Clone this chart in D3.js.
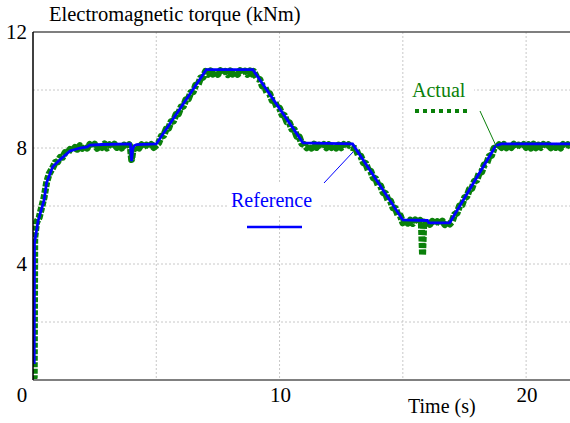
<!DOCTYPE html>
<html>
<head>
<meta charset="utf-8">
<script src="https://cdn.jsdelivr.net/npm/d3@7"></script>
<style>
  body { margin: 0; background: #fff; }
</style>
</head>
<body>
<svg id="chart" width="570" height="423" font-family="'Liberation Serif', 'Times New Roman', Times, serif"></svg>
<script>
// reference torque (kNm) vs time (s)
var refT = [0.03, 0.05, 0.06, 0.21, 0.45, 0.55, 0.8, 1.1, 1.5, 1.9, 2.2, 2.3, 2.8, 3.95, 4.0, 4.04, 4.1, 4.2, 5.0, 7.03, 8.92, 10.95, 12.96, 15.0, 16.0, 16.05, 16.9, 18.77, 19.0, 21.78];
var refV = [0.6, 0.6, 4.72, 5.5, 6.2, 6.8, 7.35, 7.6, 7.9, 8.0, 8.04, 8.1, 8.12, 8.14, 7.55, 7.95, 8.08, 8.12, 8.14, 10.7, 10.7, 8.18, 8.14, 5.52, 5.5, 5.42, 5.42, 8.08, 8.14, 8.14];

// actual torque (kNm) vs time (s), noisy measurement
var actT = [0, 0.05, 0.07, 0.15, 0.25, 0.35, 0.45, 0.55, 0.65,
  0.8, 0.9, 1.0, 1.1, 1.2, 1.3, 1.4, 1.5, 1.6, 1.7, 1.8, 1.9, 2.0, 2.1, 2.2, 2.3, 2.4, 2.5, 2.6, 2.7, 2.8, 2.9, 3.0, 3.1, 3.2, 3.3, 3.4, 3.5, 3.6, 3.7, 3.8, 3.9,
  3.95, 4.0, 4.05, 4.15, 4.3, 4.4, 4.5, 4.6, 4.7, 4.8, 4.9, 5.0,
  5.1, 5.2, 5.3, 5.4, 5.5, 5.6, 5.7, 5.8, 5.9, 6.0, 6.1, 6.2, 6.3, 6.4, 6.5, 6.6, 6.7, 6.8, 6.9, 7.0,
  7.1, 7.2, 7.3, 7.4, 7.5, 7.6, 7.7, 7.8, 7.9, 8.0, 8.1, 8.2, 8.3, 8.4, 8.5, 8.6, 8.7, 8.8, 8.9, 8.95,
  9.1, 9.2, 9.3, 9.4, 9.5, 9.6, 9.7, 9.8, 9.9, 10.0, 10.1, 10.2, 10.3, 10.4, 10.5, 10.6, 10.7, 10.8, 10.9,
  11.0, 11.1, 11.2, 11.3, 11.4, 11.5, 11.6, 11.7, 11.8, 11.9, 12.0, 12.1, 12.2, 12.3, 12.4, 12.5, 12.6, 12.7, 12.8, 12.9,
  13.0, 13.1, 13.2, 13.3, 13.4, 13.5, 13.6, 13.7, 13.8, 13.9, 14.0, 14.1, 14.2, 14.3, 14.4, 14.5, 14.6, 14.7, 14.8, 14.9,
  15.0, 15.1, 15.2, 15.3, 15.4, 15.5, 15.6, 15.7, 15.75, 15.8, 15.85, 15.9, 16.0, 16.1, 16.2, 16.3, 16.4, 16.5, 16.6, 16.7, 16.8, 16.9,
  17.0, 17.1, 17.2, 17.3, 17.4, 17.5, 17.6, 17.7, 17.8, 17.9, 18.0, 18.1, 18.2, 18.3, 18.4, 18.5, 18.6, 18.7, 18.8, 18.9, 19.0,
  19.1, 19.2, 19.3, 19.4, 19.5, 19.6, 19.7, 19.8, 19.9, 20.0, 20.1, 20.2, 20.3, 20.4, 20.5, 20.6, 20.7, 20.8, 20.9, 21.0, 21.1, 21.2, 21.3, 21.4, 21.5, 21.6, 21.7, 21.78];
var actV = [0.0, 0.1, 4.9, 5.45, 5.6, 5.95, 6.3, 6.8, 7.1,
  7.32, 7.5, 7.52, 7.68, 7.68, 7.84, 7.82, 7.95, 7.9, 8.02, 7.96, 8.08, 7.99, 8.11, 8.0, 8.12, 8.01, 8.13, 7.99, 8.1, 8.02, 8.14, 8.0, 8.11, 8.01, 8.13, 8.02, 8.15, 8.0, 8.1, 8.02, 8.11,
  8.02, 7.6, 7.9, 8.08, 8.0, 8.11, 8.01, 8.1, 8.0, 8.12, 8.02, 8.1,
  8.18, 8.4, 8.43, 8.65, 8.68, 8.91, 8.93, 9.16, 9.18, 9.41, 9.44, 9.66, 9.69, 9.91, 9.94, 10.17, 10.19, 10.42, 10.44, 10.64,
  10.54, 10.66, 10.55, 10.65, 10.54, 10.67, 10.55, 10.64, 10.53, 10.66, 10.55, 10.65, 10.54, 10.67, 10.56, 10.65, 10.54, 10.66, 10.55, 10.64,
  10.39, 10.36, 10.14, 10.11, 9.89, 9.87, 9.64, 9.62, 9.39, 9.37, 9.15, 9.12, 8.9, 8.87, 8.65, 8.63, 8.4, 8.38, 8.15,
  8.12, 8.01, 8.11, 8.0, 8.13, 8.02, 8.1, 8.0, 8.12, 8.01, 8.11, 8.02, 8.13, 8.0, 8.1, 8.01, 8.12, 8.02, 8.11, 8.03,
  8.0, 7.97, 7.74, 7.71, 7.49, 7.46, 7.23, 7.2, 6.97, 6.94, 6.71, 6.69, 6.46, 6.43, 6.2, 6.17, 5.94, 5.92, 5.69, 5.66,
  5.42, 5.52, 5.41, 5.51, 5.4, 5.52, 5.42, 5.5, 5.44, 4.3, 5.45, 5.38, 5.48, 5.37, 5.47, 5.36, 5.46, 5.37, 5.48, 5.36, 5.46, 5.38,
  5.47, 5.71, 5.76, 6.0, 6.04, 6.28, 6.33, 6.57, 6.61, 6.85, 6.89, 7.14, 7.18, 7.42, 7.46, 7.71, 7.75, 7.99, 8.0, 8.11, 8.02,
  8.12, 8.01, 8.11, 8.02, 8.13, 8.0, 8.1, 8.01, 8.12, 8.02, 8.11, 8.0, 8.13, 8.01, 8.1, 8.02, 8.12, 8.0, 8.11, 8.01, 8.13, 8.02, 8.1, 8.0, 8.12, 8.01, 8.11, 8.05];

var yLabelTicks = [4, 8, 12];
var xLabelTicks = [0, 10, 20];
var yGridTicks = [2, 4, 6, 8, 10];
var xGridTicks = [5, 10, 15, 20];

var svg = d3.select("svg#chart");
var pLeft = 33, pRight = 570, pTop = 32, pBottom = 380;

var x = d3.scaleLinear().domain([0, 21.78]).range([pLeft, pRight]);
var y = d3.scaleLinear().domain([0, 12]).range([pBottom, pTop]);

// grid
var grid = svg.append("g").attr("class", "grid");
grid.selectAll("line.h").data(yGridTicks).enter().append("line")
    .attr("x1", pLeft).attr("x2", pRight)
    .attr("y1", function(d) { return y(d); }).attr("y2", function(d) { return y(d); })
    .attr("stroke", "#c8c8c8").attr("stroke-width", 1).attr("stroke-dasharray", "2,2");
grid.selectAll("line.v").data(xGridTicks).enter().append("line")
    .attr("x1", function(d) { return x(d); }).attr("x2", function(d) { return x(d); })
    .attr("y1", pTop).attr("y2", pBottom)
    .attr("stroke", "#c8c8c8").attr("stroke-width", 1).attr("stroke-dasharray", "2,2");

// label boxes hide grid behind text
svg.append("rect").attr("x", 404).attr("y", 74).attr("width", 70).attr("height", 28).attr("fill", "#fff");
svg.append("rect").attr("x", 227).attr("y", 184).attr("width", 93).attr("height", 30).attr("fill", "#fff");

svg.append("defs").append("clipPath").attr("id", "clip")
  .append("rect").attr("x", pLeft).attr("y", pTop - 5).attr("width", pRight - pLeft).attr("height", pBottom - pTop + 5);

var actData = actT.map(function(t, i) { return [t, actV[i]]; });
var refData = refT.map(function(t, i) { return [t, refV[i]]; });

var line = d3.line()
    .x(function(d) { return x(d[0]); })
    .y(function(d) { return y(d[1]); });

svg.append("path").datum(actData)
    .attr("clip-path", "url(#clip)")
    .attr("d", line)
    .attr("fill", "none").attr("stroke", "#0a800a").attr("stroke-width", 7)
    .attr("stroke-linejoin", "round")
    .attr("stroke-dasharray", "5,1.5");

svg.append("path").datum(refData)
    .attr("clip-path", "url(#clip)")
    .attr("d", line)
    .attr("fill", "none").attr("stroke", "#0000ff").attr("stroke-width", 2.8);

// frame
svg.append("line").attr("x1", pLeft).attr("x2", pRight).attr("y1", pTop).attr("y2", pTop)
    .attr("stroke", "#555").attr("stroke-width", 1.5);
svg.append("line").attr("x1", pLeft).attr("x2", pRight).attr("y1", pBottom).attr("y2", pBottom)
    .attr("stroke", "#808080").attr("stroke-width", 2);
svg.append("line").attr("x1", pLeft).attr("x2", pLeft).attr("y1", pTop).attr("y2", pBottom)
    .attr("stroke", "#000").attr("stroke-width", 1.5);

// tick labels
svg.selectAll("text.ylab").data(yLabelTicks).enter().append("text")
    .attr("class", "ylab")
    .attr("x", 27).attr("y", function(d) { return y(d); })
    .attr("dy", "0.35em").attr("text-anchor", "end")
    .attr("font-size", 21).text(function(d) { return d; });
svg.selectAll("text.xlab").data(xLabelTicks).enter().append("text")
    .attr("class", "xlab")
    .attr("x", function(d) { return d === 0 ? x(d) - 11 : x(d) + 1; })
    .attr("y", 402).attr("text-anchor", "middle")
    .attr("font-size", 21).text(function(d) { return d; });

// titles
svg.append("text").attr("x", 49).attr("y", 21).attr("font-size", 20.5).text("Electromagnetic torque (kNm)");
svg.append("text").attr("x", 408).attr("y", 413).attr("font-size", 20).text("Time (s)");

// annotations
svg.append("text").attr("x", 412).attr("y", 97).attr("font-size", 20).attr("fill", "#0a800a").text("Actual");
svg.append("line").attr("x1", 415).attr("x2", 467).attr("y1", 111).attr("y2", 111)
    .attr("stroke", "#0a800a").attr("stroke-width", 4).attr("stroke-dasharray", "4,4");
svg.append("line").attr("x1", 480).attr("x2", 497).attr("y1", 111).attr("y2", 148)
    .attr("stroke", "#0a800a").attr("stroke-width", 1);

svg.append("text").attr("x", 231).attr("y", 207).attr("font-size", 20).attr("fill", "#0000ff").text("Reference");
svg.append("line").attr("x1", 247).attr("x2", 302).attr("y1", 227).attr("y2", 227)
    .attr("stroke", "#0000ff").attr("stroke-width", 2.5);
svg.append("line").attr("x1", 324).attr("x2", 353).attr("y1", 183).attr("y2", 152)
    .attr("stroke", "#0000ff").attr("stroke-width", 1);
</script>
</body>
</html>
